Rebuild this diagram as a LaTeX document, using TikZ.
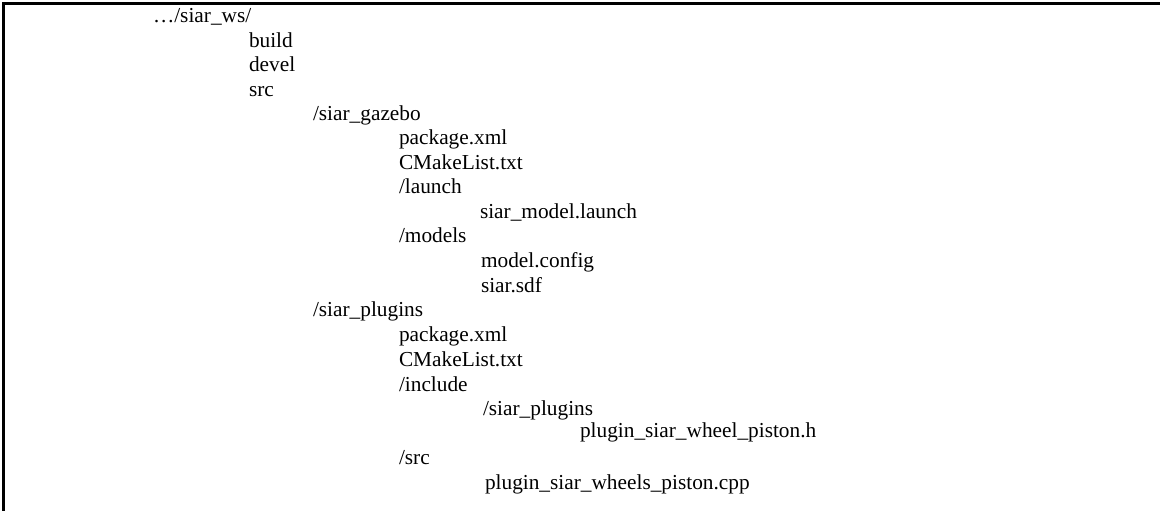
\documentclass[tikz,border=0pt]{standalone}
\usepackage{fontspec}
\setmainfont{Liberation Serif}
\begin{document}
\begin{tikzpicture}[x=1bp,y=-1bp,
  entry/.style={anchor=base west, inner sep=0pt, outer sep=0pt, font=\fontsize{21.4}{24}\selectfont},
  frameline/.style={line width=3bp, black}]
\useasboundingbox (0,0) rectangle (1160,511);
\fill[white, overlay] (-20,-20) rectangle (1180,531);
\draw[frameline] (3.5,511) -- (3.5,3.5) -- (1160,3.5);
\node[entry] (ws)     at (153,23)  {…/siar\_ws/};
\node[entry] (build)  at (249,48)  {build};
\node[entry] (devel)  at (249,72)  {devel};
\node[entry] (src)    at (249,97)  {src};
\node[entry] (gaz)    at (313,121) {/siar\_gazebo};
\node[entry] (gpkg)   at (399,145) {package.xml};
\node[entry] (gcm)    at (399,170) {CMakeList.txt};
\node[entry] (launch) at (399,194) {/launch};
\node[entry] (slaunch) at (480,219) {siar\_model.launch};
\node[entry] (models) at (399,243) {/models};
\node[entry] (mconf)  at (481,268) {model.config};
\node[entry] (sdf)    at (481,293) {siar.sdf};
\node[entry] (plug)   at (313,317) {/siar\_plugins};
\node[entry] (ppkg)   at (399,342) {package.xml};
\node[entry] (pcm)    at (399,367) {CMakeList.txt};
\node[entry] (inc)    at (399,391) {/include};
\node[entry] (iplug)  at (483,415) {/siar\_plugins};
\node[entry] (hfile)  at (580,437) {plugin\_siar\_wheel\_piston.h};
\node[entry] (psrc)   at (399,464) {/src};
\node[entry] (cpp)    at (485,489) {plugin\_siar\_wheels\_piston.cpp};
\end{tikzpicture}
\end{document}
